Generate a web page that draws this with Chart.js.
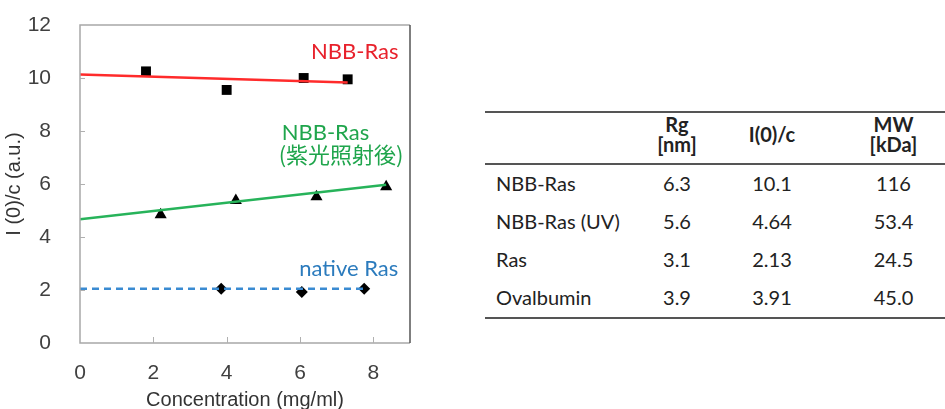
<!DOCTYPE html>
<html>
<head>
<meta charset="utf-8">
<script src="https://cdn.jsdelivr.net/npm/chart.js@4.4.1/dist/chart.umd.min.js"></script>
<style>
    body { margin: 0; background: #fff; width: 945px; height: 409px; overflow: hidden; position: relative; }
    #chartBox { position: absolute; left: 0; top: 0; width: 440px; height: 409px; }
    #saxsTable {
        position: absolute; left: 485px; top: 111px; width: 460px;
        border-collapse: collapse; font-family: Lato, "Open Sans", sans-serif;
        font-size: 20px; color: #222;
        border-top: 2px solid #555; border-bottom: 2px solid #555;
    }
    #saxsTable th { font-weight: 700; line-height: 20px; height: 52px; padding: 0 0 8px 0; box-sizing: border-box; border-bottom: 2px solid #555; }
    #saxsTable td { height: 35px; padding: 0 0 3px 0; line-height: 24px; text-align: center; }
    #saxsTable td:first-child { text-align: left; padding-left: 11px; }
    #saxsTable .mw { padding-left: 22px; }
</style>
</head>
<body>
<div id="chartBox"><canvas id="saxsChart" width="440" height="409"></canvas></div>
<table id="saxsTable">
    <colgroup><col style="width:145px"><col style="width:94px"><col style="width:96px"><col style="width:125px"></colgroup>
    <thead><tr id="headRow"></tr></thead>
    <tbody id="tableBody"></tbody>
</table>
<script>
    const nbbX = [1.8, 4.0, 6.1, 7.3];
    const nbbY = [10.25, 9.55, 10.0, 9.95];
    const uvX = [2.2, 4.25, 6.45, 8.35];
    const uvY = [4.84, 5.38, 5.52, 5.9];
    const nativeX = [3.85, 6.05, 7.75];
    const nativeY = [2.05, 1.92, 2.05];

    // 피팅 직선 (양 끝점)
    const nbbFitX = [0, 7.3];
    const nbbFitY = [10.13, 9.83];
    const uvFitX = [0, 8.35];
    const uvFitY = [4.67, 5.97];
    const nativeFitX = [0, 7.75];
    const nativeFitY = [2.05, 2.05];

    const xTicks = [0, 2, 4, 6, 8];
    const yTicks = [0, 2, 4, 6, 8, 10, 12];

    // 표 데이터
    const tableHeader = [[''], ['Rg', '[nm]'], ['I(0)/c'], ['MW', '[kDa]']];
    const tableNames = ['NBB-Ras', 'NBB-Ras (UV)', 'Ras', 'Ovalbumin'];
    const tableRg = ['6.3', '5.6', '3.1', '3.9'];
    const tableI0 = ['10.1', '4.64', '2.13', '3.91'];
    const tableMW = ['116', '53.4', '24.5', '45.0'];

    function pts(xs, ys) {
        return xs.map((x, i) => ({ x: x, y: ys[i] }));
    }

    // 그래프 안의 설명 글자 (왼쪽 기준)
    const curveLabels = [
        { text: ['NBB-Ras'], x: 6.3, y: 11.0, color: '#e8212b' },
        { text: ['NBB-Ras', '(紫光照射後)'], x: 5.5, y: 7.93, color: '#1fa54c' },
        { text: ['native Ras'], x: 5.98, y: 2.8, color: '#2b7bbd' }
    ];

    const framePlugin = {
        id: 'frame',
        afterDraw(chart) {
            const ctx = chart.ctx;
            const a = chart.chartArea;
            const xs = chart.scales.x, ys = chart.scales.y;
            ctx.save();
            ctx.lineWidth = 1.5;
            ctx.strokeStyle = '#a8a8a8';
            ctx.beginPath();
            ctx.moveTo(a.right, a.top); ctx.lineTo(a.left, a.top);
            ctx.lineTo(a.left, a.bottom); ctx.lineTo(a.right, a.bottom);
            ctx.stroke();
            ctx.strokeStyle = '#555';
            ctx.beginPath();
            ctx.moveTo(a.right, a.top); ctx.lineTo(a.right, a.bottom);
            ctx.stroke();
            // 안쪽 눈금
            ctx.lineWidth = 1;
            ctx.strokeStyle = '#b0b0b0';
            ctx.beginPath();
            xTicks.slice(1).forEach(v => {
                const px = Math.round(xs.getPixelForValue(v)) + 0.5;
                ctx.moveTo(px, a.bottom); ctx.lineTo(px, a.bottom - 6);
            });
            yTicks.slice(1, -1).forEach(v => {
                const py = Math.round(ys.getPixelForValue(v)) + 0.5;
                ctx.moveTo(a.left, py); ctx.lineTo(a.left + 5, py);
            });
            ctx.stroke();
            // 라벨
            ctx.textAlign = 'left';
            ctx.textBaseline = 'middle';
            curveLabels.forEach(l => {
                ctx.fillStyle = l.color;
                l.text.forEach((t, i) => {
                    ctx.font = (i === 0 ? '22px Lato' : '22px "Noto Sans CJK JP"');
                    ctx.fillText(t, xs.getPixelForValue(l.x) - (i === 0 ? 0 : 3), ys.getPixelForValue(l.y) + i * 22);
                });
            });
            ctx.restore();
        }
    };

    const axisFont = { family: '"Liberation Sans", Arial, sans-serif', size: 21 };

    new Chart(document.getElementById('saxsChart').getContext('2d'), {
        type: 'scatter',
        data: {
            datasets: [
                { data: pts(nbbFitX, nbbFitY), showLine: true, borderColor: '#ff2b2b', borderWidth: 2.5, pointRadius: 0 },
                { data: pts(uvFitX, uvFitY), showLine: true, borderColor: '#27b35a', borderWidth: 2.5, pointRadius: 0 },
                { data: pts(nativeFitX, nativeFitY), showLine: true, borderColor: '#3a8bd2', borderWidth: 2.5, borderDash: [7, 5], pointRadius: 0 },
                { data: pts(nbbX, nbbY), pointStyle: 'rect', pointRadius: 7, backgroundColor: '#000', borderColor: '#000', borderWidth: 0 },
                { data: pts(uvX, uvY), pointStyle: 'triangle', pointRadius: 7, backgroundColor: '#000', borderColor: '#000', borderWidth: 0 },
                { data: pts(nativeX, nativeY), pointStyle: 'rectRot', pointRadius: 6, backgroundColor: '#000', borderColor: '#000', borderWidth: 0 }
            ]
        },
        options: {
            responsive: false,
            animation: false,
            layout: { padding: { top: 25, right: 30, left: 0, bottom: 0 } },
            plugins: { legend: { display: false }, tooltip: { enabled: false } },
            scales: {
                x: {
                    type: 'linear', min: 0, max: 9,
                    afterBuildTicks: s => { s.ticks = xTicks.map(v => ({ value: v })); },
                    afterFit: s => { s.height = 66; s.paddingLeft = 0; s.paddingRight = 0; },
                    grid: { display: false },
                    border: { display: false },
                    ticks: { font: axisFont, color: '#404040', padding: 10 },
                    title: { display: true, text: 'Concentration (mg/ml)', font: { family: axisFont.family, size: 20 }, color: '#333', padding: { top: 0, bottom: -3 } }
                },
                y: {
                    type: 'linear', min: 0, max: 12,
                    afterBuildTicks: s => { s.ticks = yTicks.map(v => ({ value: v })); },
                    afterFit: s => { s.width = 80; s.paddingTop = 0; s.paddingBottom = 0; },
                    grid: { display: false },
                    border: { display: false },
                    ticks: { font: axisFont, color: '#404040', padding: 21 },
                    title: { display: true, text: 'I (0)/c (a.u.)', font: { family: axisFont.family, size: 20 }, color: '#333', padding: { top: 2, bottom: 0 } }
                }
            }
        },
        plugins: [framePlugin]
    });

    // 표 만들기
    const headRow = document.getElementById('headRow');
    tableHeader.forEach((h, i) => {
        const th = document.createElement('th');
        if (i === 3) th.className = 'mw';
        th.innerHTML = h.join('<br>');
        headRow.appendChild(th);
    });
    const body = document.getElementById('tableBody');
    tableNames.forEach((name, i) => {
        const tr = document.createElement('tr');
        [name, tableRg[i], tableI0[i], tableMW[i]].forEach((v, j) => {
            const td = document.createElement('td');
            if (j === 3) td.className = 'mw';
            td.textContent = v;
            tr.appendChild(td);
        });
        body.appendChild(tr);
    });
</script>
</body>
</html>
